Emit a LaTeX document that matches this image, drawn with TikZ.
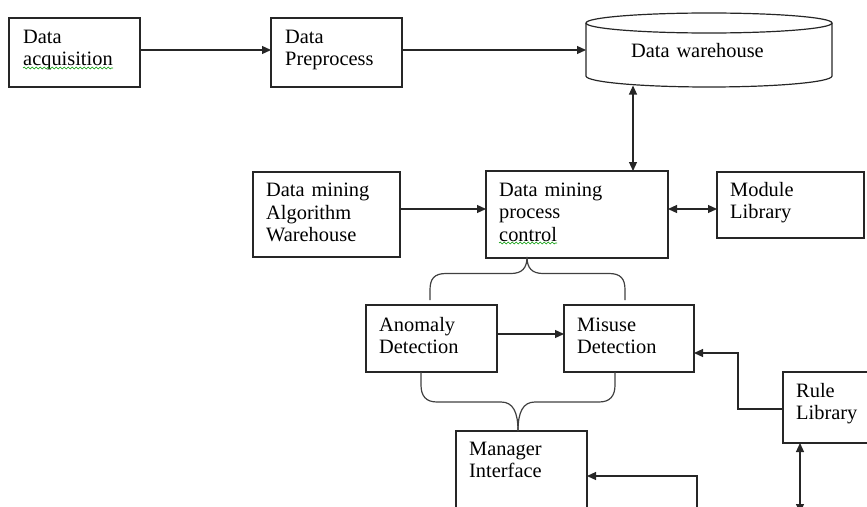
\documentclass[tikz,border=0pt]{standalone}
\usepackage{fontspec}
\setmainfont{Liberation Serif}
\usetikzlibrary{arrows.meta,calc,decorations.pathmorphing}
\tikzset{
  ln/.style={line width=1.2pt, draw=black!85},
  boxnode/.style={ln, draw, rectangle, inner sep=0pt, outer sep=0pt, anchor=north west},
  lbl/.style={anchor=base west, inner sep=0pt, align=left, text width=170pt,
              font=\fontsize{20.4}{22.5}\selectfont},
  tip/.tip={Triangle[length=9pt,width=8pt]},
  arr/.style={ln, -tip},
  dbl/.style={ln, tip-tip},
  brace/.style={line width=1.2pt, draw=black!75},
  squiggle/.style={draw=green!60!black, line width=0.6pt,
                   decorate, decoration={snake, segment length=4pt, amplitude=0.9pt}},
}
\begin{document}
\begin{tikzpicture}[x=1pt, y=-1pt]
\useasboundingbox (0,0) rectangle (867,506);
\clip (0,0) rectangle (867,506);

% boxes
\node[boxnode, minimum width=131pt, minimum height=69pt] (acq) at (9,18) {};
\node[lbl] (acqT) at ($(acq.north west)+(14,25)$) {Data\\acquisition};
\node[boxnode, minimum width=131pt, minimum height=69pt] (prep) at (271,18) {};
\node[lbl] (prepT) at ($(prep.north west)+(14,25)$) {Data\\Preprocess};

\node[boxnode, minimum width=147pt, minimum height=85pt] (alg) at (253,172) {};
\node[lbl] (algT) at ($(alg.north west)+(13,24.5)$) {Data mining\\Algorithm\\Warehouse};
\node[boxnode, minimum width=182pt, minimum height=87pt] (ctrl) at (486,171) {};
\node[lbl] (ctrlT) at ($(ctrl.north west)+(13,25)$) {Data mining\\process\\control};
\node[boxnode, minimum width=147pt, minimum height=66pt] (mod) at (717,172) {};
\node[lbl] (modT) at ($(mod.north west)+(13,24)$) {Module\\Library};

\node[boxnode, minimum width=131pt, minimum height=67pt] (ano) at (366,305) {};
\node[lbl] (anoT) at ($(ano.north west)+(13,26)$) {Anomaly\\Detection};
\node[boxnode, minimum width=130pt, minimum height=67pt] (mis) at (564,305) {};
\node[lbl] (misT) at ($(mis.north west)+(13,26)$) {Misuse\\Detection};

\node[boxnode, minimum width=131pt, minimum height=100pt] (mgr) at (456,431) {};
\node[lbl] (mgrT) at ($(mgr.north west)+(13,24)$) {Manager\\Interface};
\node[boxnode, minimum width=97pt, minimum height=71pt] (rule) at (783,372) {};
\node[lbl] (ruleT) at ($(rule.north west)+(13,25)$) {Rule\\Library};

% data warehouse cylinder
\node[inner sep=0pt, outer sep=0pt, minimum width=246pt, minimum height=53pt, anchor=north west] (wh) at (586,23) {};
\draw[ln] (wh.north west) -- (wh.south west)
  arc[start angle=180, end angle=360, x radius=123pt, y radius=11pt] -- (wh.north east);
\draw[ln, fill=white] (wh.north) ellipse [x radius=123pt, y radius=10pt];
\node[lbl] (whT) at (631,57) {Data warehouse};

% spell-check squiggles
\coordinate (sq1a) at (23,68);
\coordinate (sq1b) at (113,68);
\draw[squiggle] (sq1a) -- (sq1b);
\coordinate (sq2a) at (499,243);
\coordinate (sq2b) at (557,243);
\draw[squiggle] (sq2a) -- (sq2b);

% connectors
\coordinate (pa) at ([yshift=2.5pt]acq.east);
\draw[arr] (pa) -- (pa -| prep.west);
\coordinate (pb) at ([yshift=2.5pt]prep.east);
\draw[arr] (pb) -- (pb -| wh.west);

\coordinate (whb) at (633,85.5);
\draw[dbl] (whb) -- (whb |- ctrl.north);

\coordinate (aa) at ([yshift=5.5pt]alg.east);
\draw[arr] (aa) -- (aa -| ctrl.west);
\coordinate (ma) at ([yshift=-4pt]mod.west);
\draw[dbl] (ma -| ctrl.east) -- (ma);

\coordinate (an) at ([yshift=4.5pt]ano.east);
\draw[arr] (an) -- (an -| mis.west);

\coordinate (rb) at (738,0);
\coordinate (mt) at ([yshift=-14.5pt]mis.east);
\draw[arr] ([yshift=-1.5pt]rule.west) -| (rb |- mt) -- (mt);

\coordinate (mb) at (697,520);
\coordinate (mg) at ([yshift=5pt]mgr.east);
\draw[arr] (mb) |- (mg);

\coordinate (rd) at (800,513);
\draw[dbl] (rd |- rule.south) -- (rd);

% braces
\coordinate (bt) at (527,257);
\coordinate (bl) at (430,300);
\coordinate (br) at (625,300);
\draw[brace] (bt) .. controls (527,268) and (522,273.5) .. (511,273.5) -- (446,273.5)
  .. controls (434,273.5) and (430,279) .. (430,290) -- (bl);
\draw[brace] (bt) .. controls (527,268) and (532,273.5) .. (543,273.5) -- (609,273.5)
  .. controls (621,273.5) and (625,279) .. (625,290) -- (br);

\coordinate (ct) at (518,431);
\coordinate (cl) at (421,372);
\coordinate (cr) at (615,372);
\draw[brace] (cl) -- (421,385) .. controls (421,396) and (426,402) .. (437,402) -- (501,402)
  .. controls (513,402) and (518,412) .. (ct);
\draw[brace] (cr) -- (615,385) .. controls (615,396) and (610,402) .. (599,402) -- (535,402)
  .. controls (523,402) and (518,412) .. (ct);
\end{tikzpicture}
\end{document}
